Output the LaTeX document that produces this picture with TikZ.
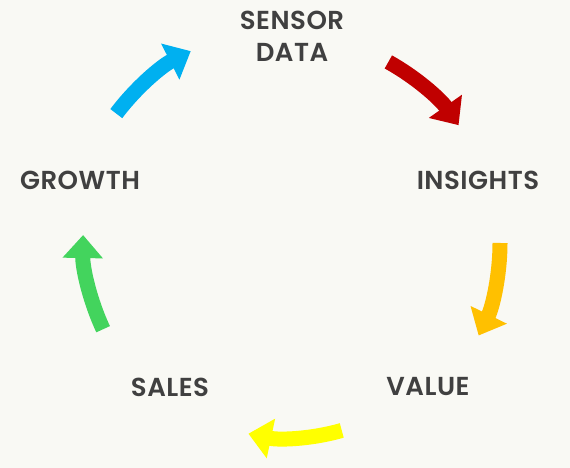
\documentclass[tikz,border=0pt]{standalone}
\usepackage{fontspec}
\setmainfont{Poppins}[UprightFont=* SemiBold, LetterSpace=2]
\usepackage{tikz}
\usetikzlibrary{arrows.meta}
\definecolor{bgcol}{HTML}{F9F9F4}
\definecolor{txtcol}{HTML}{404040}
\definecolor{redcol}{HTML}{C00000}
\definecolor{orangecol}{HTML}{FFC000}
\definecolor{yellowcol}{HTML}{FFFF00}
\definecolor{greencol}{HTML}{43D45D}
\definecolor{bluecol}{HTML}{00B0F0}
\begin{document}
\begin{tikzpicture}[x=1pt, y=1pt, label/.style={text=txtcol, font=\fontsize{26}{32}\selectfont, align=center, inner sep=0pt}, cyclearrow/.style={line width=15pt, -{Triangle[length=23pt, width=39pt]}}]
\fill[bgcol] (0,0) rectangle (570,468);
\useasboundingbox (0,0) rectangle (570,468);
\coordinate (c) at (288,225);
\node[label] (sensor) at (292,432) {SENSOR\\DATA};
\node[label] (insights) at (478,288) {INSIGHTS};
\node[label] (value) at (428,81) {VALUE};
\node[label] (sales) at (170,81) {SALES};
\node[label] (growth) at (80,288) {GROWTH};
\draw[cyclearrow, redcol] (c) ++(61:207) arc[start angle=61, end angle=35, radius=210];
\draw[cyclearrow, orangecol] (c) ++(0:212) arc[start angle=0, end angle=-26, radius=211];
\draw[cyclearrow, yellowcol] (c) ++(-74:195) arc[start angle=-74, end angle=-102, radius=193];
\draw[cyclearrow, greencol] (c) ++(205:204) arc[start angle=205, end angle=179, radius=214];
\draw[cyclearrow, bluecol] (c) ++(143:215) arc[start angle=143, end angle=117, radius=216];
\end{tikzpicture}
\end{document}
